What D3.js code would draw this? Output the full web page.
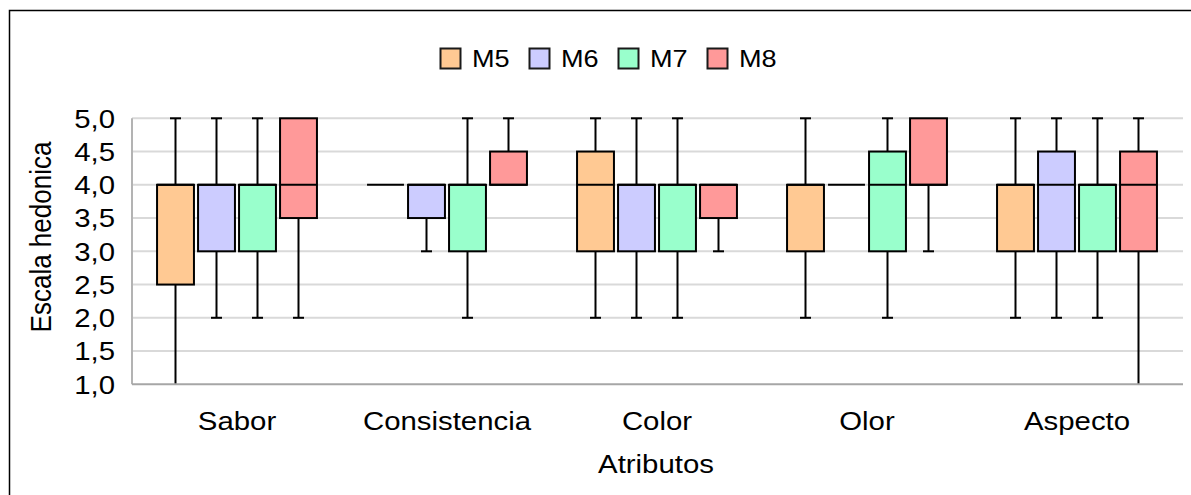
<!DOCTYPE html>
<html>
<head>
<meta charset="utf-8">
<script src="https://cdn.jsdelivr.net/npm/d3@7"></script>
<style>
  html, body { margin: 0; padding: 0; background: #fff; }
  svg { display: block; font-family: "Liberation Sans", Arial, sans-serif; }
</style>
</head>
<body>
<svg id="chart" width="1191" height="495"></svg>
<script>
// Attributes evaluated and samples compared
const categories = ["Sabor", "Consistencia", "Color", "Olor", "Aspecto"];
const series = ["M5", "M6", "M7", "M8"];
const seriesColors = ["#FFC993", "#CCCCFF", "#99FFCC", "#FF9999"];

// Five-number summaries per attribute: [min, Q1, median, Q3, max]
const m5 = [[1, 2.5, 4, 4, 5], [4, 4, 4, 4, 4], [2, 3, 4, 4.5, 5], [2, 3, 4, 4, 5], [2, 3, 4, 4, 5]];
const m6 = [[2, 3, 4, 4, 5], [3, 3.5, 4, 4, 4], [2, 3, 4, 4, 5], [4, 4, 4, 4, 4], [2, 3, 4, 4.5, 5]];
const m7 = [[2, 3, 4, 4, 5], [2, 3, 4, 4, 5], [2, 3, 4, 4, 5], [2, 3, 4, 4.5, 5], [2, 3, 4, 4, 5]];
const m8 = [[2, 3.5, 4, 5, 5], [4, 4, 4, 4.5, 5], [3, 3.5, 4, 4, 4], [3, 4, 4, 5, 5], [1, 3, 4, 4.5, 5]];
const summaries = [m5, m6, m7, m8];

const yTicks = [1, 1.5, 2, 2.5, 3, 3.5, 4, 4.5, 5];
const yTitle = "Escala hedonica";
const xTitle = "Atributos";

const svg = d3.select("#chart");
const fmt = v => d3.format(".1f")(v).replace(".", ",");
const SX = 1.13; // horizontal text stretch

const plot = { left: 132, right: 1182, top: 118.3, bottom: 384.3 };

const x0 = d3.scaleBand().domain(categories).range([plot.left, plot.right]);
const inner = 164;
const x1 = d3.scaleBand().domain(series).range([0, inner]).paddingInner(0.1).paddingOuter(0.05);
const y = d3.scaleLinear().domain([1, 5]).range([plot.bottom, plot.top]);

// outer frame
svg.append("rect")
  .attr("x", 9.5).attr("y", 10.5)
  .attr("width", 1200).attr("height", 500)
  .attr("fill", "none").attr("stroke", "#000").attr("stroke-width", 1.5);

// horizontal gridlines
svg.append("g").selectAll("line").data(yTicks.filter(t => t > 1)).join("line")
  .attr("x1", plot.left).attr("x2", plot.right + 1)
  .attr("y1", d => y(d)).attr("y2", d => y(d))
  .attr("stroke", "#d9d9d9").attr("stroke-width", 2);

// y tick labels
svg.append("g").selectAll("text").data(yTicks).join("text")
  .attr("transform", d => `translate(115,${y(d)}) scale(${SX},1)`)
  .attr("dy", "0.36em")
  .attr("text-anchor", "end")
  .attr("font-size", 26)
  .attr("fill", "#000")
  .text(fmt);

// boxes
const boxW = x1.bandwidth();
const cap = 11;
const groups = svg.append("g").selectAll("g").data(series).join("g");

series.forEach((s, si) => {
  const g = svg.append("g");
  categories.forEach((c, ci) => {
    const [mn, q1, md, q3, mx] = summaries[si][ci];
    const left = x0(c) + (x0.bandwidth() - inner) / 2 + x1(s);
    const cx = left + boxW / 2;
    if (mx > q3) {
      g.append("line").attr("x1", cx).attr("x2", cx).attr("y1", y(mx)).attr("y2", y(q3))
        .attr("stroke", "#000").attr("stroke-width", 2);
      g.append("line").attr("x1", cx - cap / 2).attr("x2", cx + cap / 2).attr("y1", y(mx)).attr("y2", y(mx))
        .attr("stroke", "#000").attr("stroke-width", 2);
    }
    if (mn < q1) {
      g.append("line").attr("x1", cx).attr("x2", cx).attr("y1", y(q1)).attr("y2", y(mn))
        .attr("stroke", "#000").attr("stroke-width", 2);
      if (mn > 1) {
        g.append("line").attr("x1", cx - cap / 2).attr("x2", cx + cap / 2).attr("y1", y(mn)).attr("y2", y(mn))
          .attr("stroke", "#000").attr("stroke-width", 2);
      }
    }
    g.append("rect")
      .attr("x", left).attr("y", y(q3))
      .attr("width", boxW).attr("height", y(q1) - y(q3))
      .attr("fill", seriesColors[si]).attr("stroke", "#000").attr("stroke-width", 2);
    g.append("line").attr("x1", left).attr("x2", left + boxW).attr("y1", y(md)).attr("y2", y(md))
      .attr("stroke", "#000").attr("stroke-width", 2);
  });
});

// axis lines
svg.append("line").attr("x1", plot.left).attr("x2", plot.left)
  .attr("y1", plot.top).attr("y2", plot.bottom)
  .attr("stroke", "#b3b3b3").attr("stroke-width", 2);
svg.append("line").attr("x1", plot.left).attr("x2", plot.right + 1)
  .attr("y1", plot.bottom).attr("y2", plot.bottom)
  .attr("stroke", "#a6a6a6").attr("stroke-width", 2);

// category labels
svg.append("g").selectAll("text").data(categories).join("text")
  .attr("transform", d => `translate(${x0(d) + x0.bandwidth() / 2},430) scale(${SX},1)`)
  .attr("text-anchor", "middle")
  .attr("font-size", 26)
  .attr("fill", "#000")
  .text(d => d);

// axis titles
svg.append("text")
  .attr("transform", `translate(656,473) scale(${SX},1)`)
  .attr("text-anchor", "middle").attr("font-size", 26).attr("fill", "#000")
  .text(xTitle);
svg.append("text")
  .attr("transform", `translate(51,237) scale(${SX},1) rotate(-90)`)
  .attr("text-anchor", "middle").attr("font-size", 26).attr("fill", "#000")
  .text(yTitle);

// legend
const legend = svg.append("g").selectAll("g").data(series).join("g")
  .attr("transform", (d, i) => `translate(${440 + i * 89},48)`);
legend.append("rect")
  .attr("x", 0.5).attr("y", 0.5).attr("width", 20).attr("height", 20)
  .attr("fill", (d, i) => seriesColors[i]).attr("stroke", "#1a1a1a").attr("stroke-width", 2);
legend.append("text")
  .attr("transform", `translate(32,19) scale(${SX},1)`)
  .attr("font-size", 24).attr("fill", "#000")
  .text(d => d);
</script>
</body>
</html>
